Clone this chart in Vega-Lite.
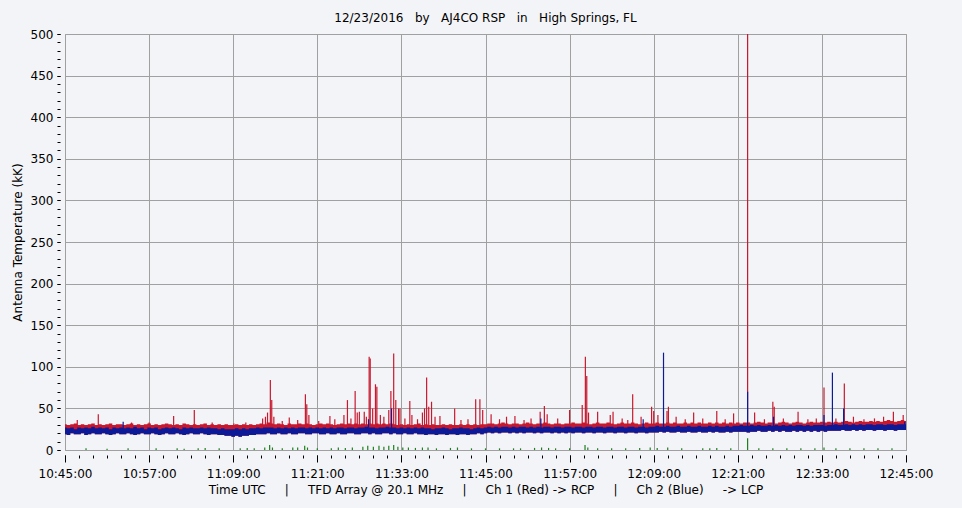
{
  "$schema": "https://vega.github.io/schema/vega-lite/v6.json",
  "width": 841,
  "height": 416,
  "autosize": {"type": "none"},
  "padding": {"left": 65, "top": 34, "right": 56, "bottom": 58},
  "background": "#f3f4f7",
  "title": {
    "text": "12/23/2016\u00a0\u00a0 by\u00a0\u00a0 AJ4CO RSP\u00a0\u00a0 in\u00a0\u00a0 High Springs, FL",
    "font": "DejaVu Sans", "fontSize": 12, "fontWeight": "normal", "color": "#000000",
    "frame": "group", "anchor": "middle", "offset": 3
  },
  "config": {
    "view": {"stroke": "#a0a0a0", "fill": "#f3f4f7"},
    "axis": {
      "labelFont": "DejaVu Sans", "labelFontSize": 12, "labelColor": "#000000",
      "titleFont": "DejaVu Sans", "titleFontSize": 12, "titleFontWeight": "normal", "titleColor": "#000000",
      "tickColor": "#000000", "tickOpacity": 1, "tickWidth": 1, "gridColor": "#a0a0a0", "gridOpacity": 1, "domain": false,
      "labelFlush": false, "labelOverlap": false
    }
  },
  "resolve": {"axis": {"x": "independent", "y": "independent"}},
  "datasets": {
    "band": [
      {"m":0,"r":31,"b":27,"f":19},{"m":0.5,"r":30,"b":26,"f":18},{"m":1,"r":31,"b":27,"f":20},{"m":1.5,"r":32,"b":25,"f":19},
      {"m":2,"r":30,"b":27,"f":19},{"m":2.5,"r":31,"b":26,"f":20},{"m":3,"r":30,"b":27,"f":18},{"m":3.5,"r":31,"b":26,"f":19},
      {"m":4,"r":32,"b":28,"f":20},{"m":4.5,"r":30,"b":26,"f":19},{"m":5,"r":31,"b":27,"f":19},{"m":5.5,"r":30,"b":26,"f":20},
      {"m":6,"r":31,"b":27,"f":19},{"m":6.5,"r":32,"b":25,"f":18},{"m":7,"r":30,"b":27,"f":19},{"m":7.5,"r":31,"b":26,"f":20},
      {"m":8,"r":31,"b":27,"f":19},{"m":8.5,"r":30,"b":26,"f":19},{"m":9,"r":31,"b":27,"f":20},{"m":9.5,"r":32,"b":26,"f":19},
      {"m":10,"r":30,"b":28,"f":18},{"m":10.5,"r":31,"b":26,"f":19},{"m":11,"r":30,"b":27,"f":20},{"m":11.5,"r":31,"b":25,"f":19},
      {"m":12,"r":32,"b":27,"f":19},{"m":12.5,"r":30,"b":26,"f":20},{"m":13,"r":31,"b":27,"f":19},{"m":13.5,"r":30,"b":25,"f":18},
      {"m":14,"r":31,"b":26,"f":19},{"m":14.5,"r":32,"b":27,"f":20},{"m":15,"r":31,"b":26,"f":19},{"m":15.5,"r":30,"b":27,"f":19},
      {"m":16,"r":31,"b":26,"f":20},{"m":16.5,"r":30,"b":25,"f":19},{"m":17,"r":32,"b":27,"f":18},{"m":17.5,"r":31,"b":26,"f":19},
      {"m":18,"r":30,"b":27,"f":20},{"m":18.5,"r":31,"b":26,"f":19},{"m":19,"r":30,"b":26,"f":19},{"m":19.5,"r":31,"b":27,"f":20},
      {"m":20,"r":32,"b":26,"f":19},{"m":20.5,"r":30,"b":27,"f":18},{"m":21,"r":31,"b":26,"f":19},{"m":21.5,"r":30,"b":26,"f":19},
      {"m":22,"r":31,"b":25,"f":18},{"m":22.5,"r":30,"b":26,"f":18},{"m":23,"r":31,"b":25,"f":17},{"m":23.5,"r":30,"b":25,"f":17},
      {"m":24,"r":30,"b":25,"f":16},{"m":24.5,"r":31,"b":26,"f":17},{"m":25,"r":30,"b":25,"f":16},{"m":25.5,"r":31,"b":26,"f":17},
      {"m":26,"r":30,"b":25,"f":17},{"m":26.5,"r":31,"b":26,"f":18},{"m":27,"r":30,"b":26,"f":18},{"m":27.5,"r":31,"b":27,"f":19},
      {"m":28,"r":32,"b":26,"f":19},{"m":28.5,"r":31,"b":27,"f":19},{"m":29,"r":33,"b":27,"f":20},{"m":29.5,"r":32,"b":27,"f":19},
      {"m":30,"r":31,"b":26,"f":19},{"m":30.5,"r":32,"b":27,"f":20},{"m":31,"r":31,"b":26,"f":19},{"m":31.5,"r":30,"b":27,"f":19},
      {"m":32,"r":32,"b":26,"f":20},{"m":32.5,"r":31,"b":27,"f":19},{"m":33,"r":31,"b":26,"f":19},{"m":33.5,"r":32,"b":27,"f":20},
      {"m":34,"r":31,"b":27,"f":20},{"m":34.5,"r":32,"b":26,"f":19},{"m":35,"r":31,"b":27,"f":19},{"m":35.5,"r":30,"b":26,"f":20},
      {"m":36,"r":31,"b":27,"f":20},{"m":36.5,"r":32,"b":26,"f":19},{"m":37,"r":31,"b":27,"f":19},{"m":37.5,"r":32,"b":26,"f":20},
      {"m":38,"r":31,"b":27,"f":19},{"m":38.5,"r":30,"b":26,"f":19},{"m":39,"r":31,"b":27,"f":20},{"m":39.5,"r":32,"b":27,"f":19},
      {"m":40,"r":31,"b":26,"f":19},{"m":40.5,"r":32,"b":27,"f":20},{"m":41,"r":31,"b":27,"f":20},{"m":41.5,"r":32,"b":26,"f":19},
      {"m":42,"r":31,"b":27,"f":19},{"m":42.5,"r":32,"b":27,"f":20},{"m":43,"r":31,"b":28,"f":20},{"m":43.5,"r":32,"b":27,"f":19},
      {"m":44,"r":31,"b":27,"f":20},{"m":44.5,"r":32,"b":26,"f":19},{"m":45,"r":31,"b":27,"f":19},{"m":45.5,"r":32,"b":27,"f":20},
      {"m":46,"r":31,"b":28,"f":20},{"m":46.5,"r":32,"b":27,"f":19},{"m":47,"r":31,"b":27,"f":20},{"m":47.5,"r":30,"b":26,"f":19},
      {"m":48,"r":31,"b":27,"f":19},{"m":48.5,"r":30,"b":26,"f":20},{"m":49,"r":31,"b":27,"f":19},{"m":49.5,"r":30,"b":26,"f":19},
      {"m":50,"r":31,"b":27,"f":20},{"m":50.5,"r":32,"b":26,"f":19},{"m":51,"r":30,"b":27,"f":19},{"m":51.5,"r":31,"b":26,"f":18},
      {"m":52,"r":30,"b":26,"f":19},{"m":52.5,"r":31,"b":25,"f":19},{"m":53,"r":30,"b":26,"f":18},{"m":53.5,"r":30,"b":26,"f":19},
      {"m":54,"r":31,"b":27,"f":19},{"m":54.5,"r":30,"b":26,"f":18},{"m":55,"r":31,"b":25,"f":19},{"m":55.5,"r":30,"b":26,"f":19},
      {"m":56,"r":30,"b":26,"f":18},{"m":56.5,"r":31,"b":27,"f":19},{"m":57,"r":30,"b":26,"f":19},{"m":57.5,"r":31,"b":26,"f":18},
      {"m":58,"r":30,"b":25,"f":19},{"m":58.5,"r":31,"b":26,"f":19},{"m":59,"r":30,"b":27,"f":20},{"m":59.5,"r":31,"b":26,"f":19},
      {"m":60,"r":31,"b":27,"f":20},{"m":60.5,"r":32,"b":28,"f":21},{"m":61,"r":32,"b":27,"f":20},{"m":61.5,"r":31,"b":28,"f":21},
      {"m":62,"r":32,"b":27,"f":20},{"m":62.5,"r":33,"b":28,"f":21},{"m":63,"r":32,"b":28,"f":21},{"m":63.5,"r":31,"b":27,"f":20},
      {"m":64,"r":32,"b":28,"f":21},{"m":64.5,"r":32,"b":27,"f":20},{"m":65,"r":31,"b":28,"f":21},{"m":65.5,"r":32,"b":28,"f":20},
      {"m":66,"r":33,"b":27,"f":21},{"m":66.5,"r":32,"b":28,"f":21},{"m":67,"r":31,"b":27,"f":20},{"m":67.5,"r":32,"b":28,"f":21},
      {"m":68,"r":32,"b":27,"f":20},{"m":68.5,"r":33,"b":28,"f":21},{"m":69,"r":32,"b":28,"f":21},{"m":69.5,"r":31,"b":27,"f":20},
      {"m":70,"r":32,"b":28,"f":21},{"m":70.5,"r":32,"b":28,"f":20},{"m":71,"r":31,"b":27,"f":21},{"m":71.5,"r":32,"b":28,"f":20},
      {"m":72,"r":32,"b":28,"f":21},{"m":72.5,"r":33,"b":27,"f":20},{"m":73,"r":32,"b":28,"f":21},{"m":73.5,"r":32,"b":28,"f":21},
      {"m":74,"r":33,"b":27,"f":20},{"m":74.5,"r":32,"b":28,"f":21},{"m":75,"r":31,"b":28,"f":21},{"m":75.5,"r":32,"b":27,"f":20},
      {"m":76,"r":33,"b":28,"f":21},{"m":76.5,"r":32,"b":28,"f":21},{"m":77,"r":32,"b":27,"f":20},{"m":77.5,"r":33,"b":28,"f":21},
      {"m":78,"r":32,"b":28,"f":21},{"m":78.5,"r":31,"b":27,"f":20},{"m":79,"r":32,"b":28,"f":21},{"m":79.5,"r":33,"b":28,"f":21},
      {"m":80,"r":32,"b":27,"f":20},{"m":80.5,"r":32,"b":28,"f":21},{"m":81,"r":33,"b":28,"f":21},{"m":81.5,"r":32,"b":27,"f":20},
      {"m":82,"r":31,"b":28,"f":21},{"m":82.5,"r":32,"b":28,"f":21},{"m":83,"r":33,"b":27,"f":20},{"m":83.5,"r":32,"b":28,"f":21},
      {"m":84,"r":32,"b":28,"f":21},{"m":84.5,"r":33,"b":29,"f":21},{"m":85,"r":32,"b":28,"f":22},{"m":85.5,"r":32,"b":28,"f":21},
      {"m":86,"r":33,"b":29,"f":22},{"m":86.5,"r":32,"b":28,"f":21},{"m":87,"r":33,"b":28,"f":21},{"m":87.5,"r":32,"b":29,"f":22},
      {"m":88,"r":32,"b":28,"f":21},{"m":88.5,"r":33,"b":28,"f":21},{"m":89,"r":32,"b":29,"f":22},{"m":89.5,"r":33,"b":28,"f":21},
      {"m":90,"r":32,"b":28,"f":21},{"m":90.5,"r":33,"b":29,"f":22},{"m":91,"r":32,"b":28,"f":21},{"m":91.5,"r":32,"b":28,"f":21},
      {"m":92,"r":33,"b":29,"f":22},{"m":92.5,"r":32,"b":28,"f":21},{"m":93,"r":33,"b":29,"f":22},{"m":93.5,"r":32,"b":28,"f":21},
      {"m":94,"r":33,"b":28,"f":21},{"m":94.5,"r":32,"b":29,"f":22},{"m":95,"r":33,"b":28,"f":21},{"m":95.5,"r":32,"b":29,"f":22},
      {"m":96,"r":33,"b":29,"f":22},{"m":96.5,"r":32,"b":30,"f":22},{"m":97,"r":33,"b":29,"f":22},{"m":97.5,"r":33,"b":29,"f":21},
      {"m":98,"r":32,"b":30,"f":22},{"m":98.5,"r":33,"b":29,"f":22},{"m":99,"r":34,"b":30,"f":23},{"m":99.5,"r":33,"b":29,"f":22},
      {"m":100,"r":32,"b":29,"f":22},{"m":100.5,"r":33,"b":30,"f":23},{"m":101,"r":33,"b":29,"f":22},{"m":101.5,"r":32,"b":30,"f":23},
      {"m":102,"r":33,"b":29,"f":22},{"m":102.5,"r":34,"b":30,"f":23},{"m":103,"r":33,"b":29,"f":22},{"m":103.5,"r":32,"b":30,"f":22},
      {"m":104,"r":33,"b":29,"f":23},{"m":104.5,"r":34,"b":30,"f":22},{"m":105,"r":33,"b":30,"f":23},{"m":105.5,"r":32,"b":29,"f":22},
      {"m":106,"r":33,"b":30,"f":23},{"m":106.5,"r":34,"b":29,"f":22},{"m":107,"r":33,"b":30,"f":23},{"m":107.5,"r":33,"b":30,"f":22},
      {"m":108,"r":34,"b":30,"f":23},{"m":108.5,"r":33,"b":29,"f":22},{"m":109,"r":34,"b":30,"f":23},{"m":109.5,"r":33,"b":30,"f":23},
      {"m":110,"r":34,"b":31,"f":23},{"m":110.5,"r":33,"b":30,"f":23},{"m":111,"r":34,"b":30,"f":24},{"m":111.5,"r":35,"b":31,"f":23},
      {"m":112,"r":34,"b":30,"f":23},{"m":112.5,"r":33,"b":31,"f":24},{"m":113,"r":34,"b":30,"f":23},{"m":113.5,"r":35,"b":31,"f":24},
      {"m":114,"r":34,"b":30,"f":23},{"m":114.5,"r":34,"b":31,"f":24},{"m":115,"r":35,"b":31,"f":24},{"m":115.5,"r":34,"b":30,"f":23},
      {"m":116,"r":35,"b":31,"f":24},{"m":116.5,"r":34,"b":31,"f":24},{"m":117,"r":35,"b":30,"f":23},{"m":117.5,"r":36,"b":31,"f":24},
      {"m":118,"r":35,"b":31,"f":24},{"m":118.5,"r":34,"b":30,"f":23},{"m":119,"r":35,"b":31,"f":24},{"m":119.5,"r":36,"b":31,"f":24},
      {"m":120,"r":35,"b":31,"f":24}
    ],
    "redSpikes": [
      {"m":1.75,"v":36},{"m":4.75,"v":43},{"m":9.5,"v":33},{"m":12.0,"v":33},{"m":15.5,"v":41},{"m":18.45,"v":48},
      {"m":21.0,"v":33},{"m":24.1,"v":32},{"m":25.8,"v":33},{"m":28.2,"v":38},{"m":28.6,"v":40},{"m":28.9,"v":45},
      {"m":29.3,"v":84},{"m":29.5,"v":60},{"m":29.8,"v":40},{"m":31.0,"v":35},{"m":32.0,"v":39},{"m":33.2,"v":36},
      {"m":34.3,"v":67},{"m":34.5,"v":55},{"m":34.8,"v":42},{"m":36.2,"v":35},{"m":37.8,"v":41},{"m":38.5,"v":37},
      {"m":39.8,"v":42},{"m":40.3,"v":60},{"m":40.8,"v":38},{"m":41.4,"v":71},{"m":41.7,"v":45},{"m":42.0,"v":46},
      {"m":42.7,"v":46},{"m":43.0,"v":40},{"m":43.4,"v":112},{"m":43.55,"v":110},{"m":43.9,"v":50},{"m":44.3,"v":79},
      {"m":44.5,"v":76},{"m":45.0,"v":42},{"m":45.5,"v":40},{"m":46.2,"v":48},{"m":46.5,"v":71},{"m":46.9,"v":116},
      {"m":47.2,"v":60},{"m":47.6,"v":50},{"m":47.8,"v":50},{"m":48.5,"v":38},{"m":49.2,"v":59},{"m":49.5,"v":42},
      {"m":50.3,"v":37},{"m":51.0,"v":45},{"m":51.3,"v":50},{"m":51.6,"v":87},{"m":51.9,"v":52},{"m":52.3,"v":58},
      {"m":52.8,"v":40},{"m":53.5,"v":41},{"m":55.6,"v":50},{"m":56.5,"v":36},{"m":57.5,"v":37},{"m":58.6,"v":61},
      {"m":59.2,"v":61},{"m":59.6,"v":48},{"m":60.8,"v":43},{"m":62.0,"v":37},{"m":63.0,"v":40},{"m":64.2,"v":41},
      {"m":65.5,"v":36},{"m":66.5,"v":38},{"m":67.8,"v":46},{"m":68.4,"v":53},{"m":68.8,"v":43},{"m":70.3,"v":38},
      {"m":72.0,"v":48},{"m":73.8,"v":54},{"m":74.25,"v":112},{"m":74.45,"v":89},{"m":74.7,"v":45},{"m":76.0,"v":46},
      {"m":77.8,"v":42},{"m":78.2,"v":46},{"m":79.5,"v":38},{"m":80.3,"v":36},{"m":81.0,"v":67},{"m":82.2,"v":40},
      {"m":83.7,"v":52},{"m":84.0,"v":47},{"m":84.6,"v":42},{"m":85.9,"v":47},{"m":86.1,"v":52},{"m":87.2,"v":40},
      {"m":88.5,"v":37},{"m":89.7,"v":45},{"m":91.0,"v":38},{"m":93.0,"v":47},{"m":94.2,"v":37},{"m":95.4,"v":44},
      {"m":97.4,"v":620},{"m":98.4,"v":45},{"m":99.8,"v":37},{"m":101.0,"v":58},{"m":101.2,"v":52},{"m":102.5,"v":38},
      {"m":104.6,"v":46},{"m":106.0,"v":37},{"m":107.2,"v":38},{"m":108.3,"v":75},{"m":110.0,"v":38},{"m":111.2,"v":80},
      {"m":112.5,"v":40},{"m":114.0,"v":37},{"m":115.5,"v":38},{"m":116.8,"v":40},{"m":118.2,"v":46},{"m":119.6,"v":42}
    ],
    "blueSpikes": [
      {"m":8.3,"v":34},{"m":43.3,"v":37},{"m":46.6,"v":50},{"m":67.9,"v":38},{"m":82.5,"v":37},{"m":85.4,"v":117},
      {"m":97.4,"v":70},{"m":101.1,"v":40},{"m":108.3,"v":42},{"m":109.5,"v":93},{"m":111.1,"v":50},{"m":119.8,"v":34}
    ],
    "green": [
      {"m":3,"v":2},{"m":6,"v":1.5},{"m":9,"v":2},{"m":13,"v":2},{"m":16,"v":2},{"m":17,"v":1.5},{"m":19,"v":2},
      {"m":20,"v":2.5},{"m":22,"v":2},{"m":25,"v":2},{"m":26,"v":2.5},{"m":27,"v":2},{"m":28.5,"v":3},{"m":29.2,"v":6},
      {"m":29.6,"v":3},{"m":31,"v":2},{"m":32.5,"v":3},{"m":33.2,"v":3},{"m":34.2,"v":5},{"m":34.6,"v":3},{"m":36,"v":2},
      {"m":38,"v":2},{"m":39,"v":3},{"m":40,"v":2.5},{"m":41,"v":3},{"m":42.5,"v":4},{"m":43.2,"v":5},{"m":44,"v":4},
      {"m":44.8,"v":5},{"m":45.5,"v":4},{"m":46.2,"v":5},{"m":46.9,"v":6},{"m":47.5,"v":4},{"m":48.2,"v":3},{"m":49,"v":3},
      {"m":50,"v":2.5},{"m":51,"v":3},{"m":51.8,"v":3},{"m":53,"v":2},{"m":55,"v":2.5},{"m":56,"v":3},{"m":58,"v":2},
      {"m":60,"v":2},{"m":62,"v":2},{"m":64,"v":2},{"m":65,"v":2},{"m":67,"v":2.5},{"m":68,"v":3},{"m":69,"v":2.5},
      {"m":70,"v":2},{"m":72,"v":2},{"m":74.2,"v":6},{"m":74.6,"v":3},{"m":76,"v":2},{"m":78,"v":2},{"m":80,"v":2},
      {"m":82,"v":2.5},{"m":83.5,"v":3},{"m":84.5,"v":2.5},{"m":86,"v":3},{"m":88,"v":2},{"m":91,"v":2},{"m":92,"v":2},
      {"m":93,"v":2.5},{"m":95,"v":2},{"m":97.4,"v":14},{"m":99,"v":2},{"m":101,"v":2},{"m":103,"v":2},{"m":105,"v":2},
      {"m":107,"v":2},{"m":108.3,"v":3},{"m":110,"v":2},{"m":112,"v":2},{"m":114,"v":2},{"m":116,"v":2},{"m":118,"v":2}
    ]
  },
  "layer": [
    {
      "data": {"name": "band"},
      "mark": {"type": "area", "color": "#c8182e", "interpolate": "step", "opacity": 1},
      "encoding": {
        "x": {"field": "m", "type": "quantitative",
          "scale": {"domain": [0, 120], "nice": false, "zero": false},
          "axis": {"orient": "bottom", "grid": true, "values": [0,12,24,36,48,60,72,84,96,108,120], "labels": false, "ticks": false, "title": null}},
        "y": {"field": "r", "type": "quantitative",
          "scale": {"domain": [0, 500], "nice": false},
          "axis": {"orient": "left", "grid": true, "values": [0,50,100,150,200,250,300,350,400,450,500], "labels": false, "ticks": false, "title": null}},
        "y2": {"field": "f"}
      }
    },
    {
      "data": {"name": "redSpikes"},
      "mark": {"type": "rule", "color": "#c8182e", "strokeWidth": 1.2, "clip": true},
      "encoding": {
        "x": {"field": "m", "type": "quantitative",
          "axis": {"orient": "bottom", "grid": false, "values": [0,2,4,6,8,10,12,14,16,18,20,22,24,26,28,30,32,34,36,38,40,42,44,46,48,50,52,54,56,58,60,62,64,66,68,70,72,74,76,78,80,82,84,86,88,90,92,94,96,98,100,102,104,106,108,110,112,114,116,118,120], "labels": false, "ticks": true, "tickSize": 3, "tickColor": "#000000", "offset": 5, "title": null}},
        "y": {"field": "v", "type": "quantitative",
          "axis": {"orient": "left", "grid": false, "values": [0,10,20,30,40,50,60,70,80,90,100,110,120,130,140,150,160,170,180,190,200,210,220,230,240,250,260,270,280,290,300,310,320,330,340,350,360,370,380,390,400,410,420,430,440,450,460,470,480,490,500], "labels": false, "ticks": true, "tickSize": 3, "offset": 5, "title": null}},
        "y2": {"datum": 27}
      }
    },
    {
      "data": {"name": "band"},
      "mark": {"type": "area", "color": "#0c1a98", "interpolate": "step", "opacity": 1},
      "encoding": {
        "x": {"field": "m", "type": "quantitative",
          "axis": {"orient": "bottom", "grid": false, "values": [0,12,24,36,48,60,72,84,96,108,120],
            "labelExpr": "format(10 + floor((45 + datum.value) / 60), '02d') + ':' + format((45 + datum.value) % 60, '02d') + ':00'",
            "ticks": true, "tickSize": 7, "tickColor": "#000000", "offset": 5, "labelPadding": 6,
            "title": "Time UTC\u00a0\u00a0\u00a0\u00a0 |\u00a0\u00a0\u00a0\u00a0 TFD Array @ 20.1 MHz\u00a0\u00a0\u00a0\u00a0 |\u00a0\u00a0\u00a0\u00a0 Ch 1 (Red) -> RCP\u00a0\u00a0\u00a0\u00a0 |\u00a0\u00a0\u00a0\u00a0 Ch 2 (Blue)\u00a0\u00a0\u00a0\u00a0 -> LCP",
            "titlePadding": 5}},
        "y": {"field": "b", "type": "quantitative",
          "axis": {"orient": "left", "grid": false, "values": [0,50,100,150,200,250,300,350,400,450,500],
            "ticks": true, "tickSize": 3, "offset": 5, "labelPadding": 4,
            "title": "Antenna Temperature (kK)", "titlePadding": 6}},
        "y2": {"field": "f"}
      }
    },
    {
      "data": {"name": "blueSpikes"},
      "mark": {"type": "rule", "color": "#0c1a98", "strokeWidth": 1.2, "clip": true},
      "encoding": {
        "x": {"field": "m", "type": "quantitative", "axis": null},
        "y": {"field": "v", "type": "quantitative", "axis": null},
        "y2": {"datum": 25}
      }
    },
    {
      "data": {"name": "green"},
      "mark": {"type": "rule", "color": "#1f7f1f", "strokeWidth": 1.2, "clip": true},
      "encoding": {
        "x": {"field": "m", "type": "quantitative", "axis": null},
        "y": {"field": "v", "type": "quantitative", "axis": null},
        "y2": {"datum": 0}
      }
    }
  ]
}
